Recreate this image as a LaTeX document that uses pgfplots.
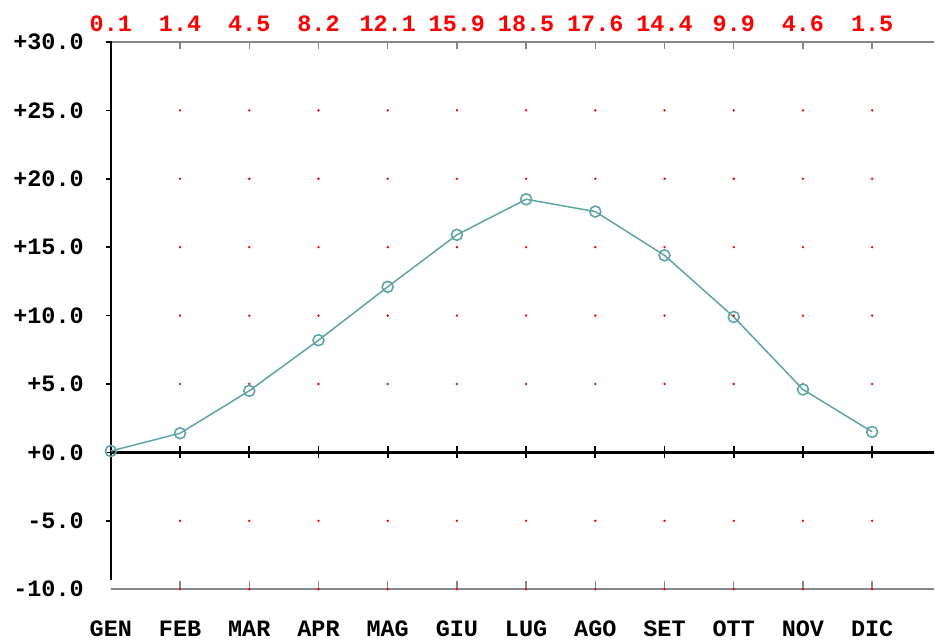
\documentclass[border=0pt]{standalone}
\usepackage{pgfplots}
\pgfplotsset{compat=1.18}
\usepackage{fontspec}
\setmonofont{Liberation Mono}
\definecolor{linea}{RGB}{95,165,165}
\definecolor{grigio}{RGB}{135,135,135}
\newcommand{\pix}{\ttfamily\bfseries\fontsize{23.5}{23.5}\selectfont}
\begin{document}
\begin{tikzpicture}
\begin{axis}[
    scale only axis,
    width=824pt, height=548pt,
    xmin=0, xmax=11.89,
    ymin=-10, ymax=30,
    axis line style={draw=none},
    major tick length=0pt,
    xtick={0,...,11},
    xticklabels={GEN,FEB,MAR,APR,MAG,GIU,LUG,AGO,SET,OTT,NOV,DIC},
    ytick={-10,-5,...,30},
    yticklabels={-10.0,-5.0,+0.0,+5.0,+10.0,+15.0,+20.0,+25.0,+30.0},
    x tick label style={font=\pix, anchor=base, yshift=-47pt},
    y tick label style={font=\pix, anchor=east, inner sep=0pt},
    yticklabel shift=27pt,
    clip=false,
]
% cornice e assi
\draw[grigio, line width=2pt] (axis cs:0,30) -- (axis cs:11.89,30);
\draw[grigio, line width=2pt] (axis cs:0,-10) -- (axis cs:11.89,-10);
\draw[black, line width=2.5pt] (axis cs:0,0) -- (axis cs:11.89,0);
\draw[black, line width=2pt] (axis cs:0,-9.3) -- (axis cs:0,30);
\pgfplotsinvokeforeach{1,...,11}{
  \draw[grigio, line width=1.5pt] (axis cs:#1,30) -- ++(0pt,-7pt);
  \draw[grigio, line width=1.5pt] (axis cs:#1,-10) -- ++(0pt,8pt);
  \draw[black, line width=1.8pt] (axis cs:#1,0) ++(0pt,-6pt) -- ++(0pt,12pt);
}
\pgfplotsinvokeforeach{-5,0,5,10,15,20,25,30}{
  \draw[black, line width=1.5pt] (axis cs:0,#1) ++(-5pt,0pt) -- ++(6pt,0pt);
}
% punti della griglia
\addplot[only marks, mark=*, mark size=1pt, red, draw=none] coordinates {
  (1,-10) (2,-10) (3,-10) (4,-10) (5,-10) (6,-10) (7,-10) (8,-10) (9,-10) (10,-10) (11,-10)
  (1,-5) (2,-5) (3,-5) (4,-5) (5,-5) (6,-5) (7,-5) (8,-5) (9,-5) (10,-5) (11,-5)
  (1,5) (2,5) (3,5) (4,5) (5,5) (6,5) (7,5) (8,5) (9,5) (10,5) (11,5)
  (1,10) (2,10) (3,10) (4,10) (5,10) (6,10) (7,10) (8,10) (9,10) (10,10) (11,10)
  (1,15) (2,15) (3,15) (4,15) (5,15) (6,15) (7,15) (8,15) (9,15) (10,15) (11,15)
  (1,20) (2,20) (3,20) (4,20) (5,20) (6,20) (7,20) (8,20) (9,20) (10,20) (11,20)
  (1,25) (2,25) (3,25) (4,25) (5,25) (6,25) (7,25) (8,25) (9,25) (10,25) (11,25)
};
% temperature medie mensili
\addplot[linea, line width=1.5pt, mark=o, mark size=5.5pt, mark options={line width=1.6pt}] coordinates {
  (0,0.1) (1,1.4) (2,4.5) (3,8.2) (4,12.1) (5,15.9)
  (6,18.5) (7,17.6) (8,14.4) (9,9.9) (10,4.6) (11,1.5)
};
% valori in alto
\node[red, font=\pix, anchor=base, inner sep=0pt] at ([yshift=10pt]axis cs:0,30) {0.1};
\node[red, font=\pix, anchor=base, inner sep=0pt] at ([yshift=10pt]axis cs:1,30) {1.4};
\node[red, font=\pix, anchor=base, inner sep=0pt] at ([yshift=10pt]axis cs:2,30) {4.5};
\node[red, font=\pix, anchor=base, inner sep=0pt] at ([yshift=10pt]axis cs:3,30) {8.2};
\node[red, font=\pix, anchor=base, inner sep=0pt] at ([yshift=10pt]axis cs:4,30) {12.1};
\node[red, font=\pix, anchor=base, inner sep=0pt] at ([yshift=10pt]axis cs:5,30) {15.9};
\node[red, font=\pix, anchor=base, inner sep=0pt] at ([yshift=10pt]axis cs:6,30) {18.5};
\node[red, font=\pix, anchor=base, inner sep=0pt] at ([yshift=10pt]axis cs:7,30) {17.6};
\node[red, font=\pix, anchor=base, inner sep=0pt] at ([yshift=10pt]axis cs:8,30) {14.4};
\node[red, font=\pix, anchor=base, inner sep=0pt] at ([yshift=10pt]axis cs:9,30) {9.9};
\node[red, font=\pix, anchor=base, inner sep=0pt] at ([yshift=10pt]axis cs:10,30) {4.6};
\node[red, font=\pix, anchor=base, inner sep=0pt] at ([yshift=10pt]axis cs:11,30) {1.5};
\end{axis}
\path[use as bounding box] (current axis.south west) ++(-111pt,-49pt) rectangle ([yshift=42pt]current axis.north east);
\end{tikzpicture}
\end{document}
